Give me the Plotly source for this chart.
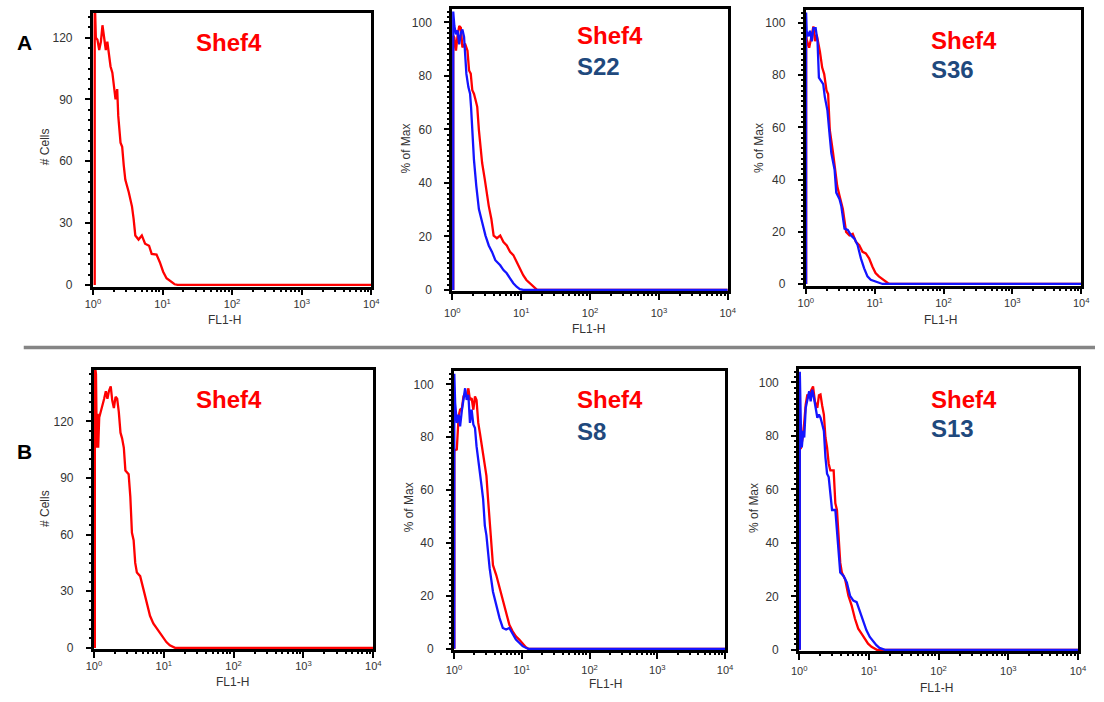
import plotly.graph_objects as go

# ---------------- data ----------------
# Panel A, left: Shef4 (# Cells)
a1_shef4_x = [1.06, 1.06, 1.10, 1.16, 1.23, 1.30, 1.37, 1.45, 1.53, 1.61, 1.70, 1.79, 1.90, 2.00, 2.11, 2.23, 2.31, 2.49, 2.63, 2.77,
              2.92, 3.27, 3.64, 3.84, 4.06, 4.52, 5.04, 5.61, 6.40, 6.98, 8.20, 9.14, 10.2, 11.4, 13.4, 14.9, 16.5, 10000]
a1_shef4_y = [0, 140, 120, 119, 114, 118, 126, 120, 114, 118, 112, 106, 103, 95, 90, 95, 82, 69, 67, 58,
              51, 45, 38, 32, 24, 22, 24, 20, 19, 15, 14.7, 11, 6.4, 3.2, 1.6, 0.3, 0, 0]

# Panel A, middle: Shef4 vs S22 (% of Max)
a2_shef4_x = [1.03, 1.03, 1.07, 1.13, 1.19, 1.26, 1.33, 1.40, 1.53, 1.66, 1.75, 1.85, 1.95, 2.06, 2.18, 2.30, 2.43, 2.57, 2.71, 2.96,
              3.20, 3.38, 3.69, 3.98, 4.44, 4.96, 5.53, 6.17, 6.89, 7.69, 8.58, 9.57, 10.7, 11.9, 13.3, 14.8, 16.0, 17.0, 10000]
a2_shef4_y = [0, 95, 94.3, 89.4, 95, 98.6, 98, 90.6, 92, 89.4, 82, 80.8, 74.6, 73.3, 70.9, 68.4, 59.8, 52.4, 47.4, 41.3,
              35.1, 31.4, 26.5, 20.3, 19.3, 20.3, 17.9, 16.6, 14.2, 13, 10.5, 8.0, 5.5, 3.7, 2.5, 1.4, 0.4, 0, 0]
a2_s22_x = [1.03, 1.03, 1.07, 1.13, 1.19, 1.26, 1.33, 1.40, 1.48, 1.53, 1.60, 1.71, 1.81, 1.87, 1.95, 2.06, 2.23, 2.43, 2.71, 3.03,
            3.38, 3.77, 4.21, 4.96, 5.53, 6.17, 6.89, 7.69, 8.58, 9.57, 10.7, 10000]
a2_s22_y = [0, 104, 98.6, 95.5, 97, 91.8, 96.1, 97.3, 94.5, 89.4, 80.7, 75.8, 73.3, 68.4, 58.5, 48.7, 38.8, 30.2, 25.3, 20.3,
            16.6, 14.2, 11.1, 9.2, 7.4, 6.2, 4.3, 2.5, 1.2, 0.3, 0, 0]

# Panel A, right: Shef4 vs S36 (% of Max)
a3_shef4_x = [1.01, 1.01, 1.03, 1.12, 1.22, 1.29, 1.36, 1.44, 1.60, 1.73, 1.85, 2.00, 2.11, 2.23, 2.49, 2.62, 2.86, 3.09, 3.45, 3.85,
              4.30, 4.80, 5.35, 5.97, 6.67, 7.44, 8.30, 9.26, 10.3, 11.5, 13.6, 15.5, 16.5, 10000]
a3_shef4_y = [0, 96, 93.6, 90.5, 95.5, 98.7, 93, 95.5, 89.2, 82.9, 80.4, 74.1, 72.8, 59, 50.1, 45.1, 37.5, 33.8, 28.7, 19.9,
              18.6, 19.2, 16.1, 14.9, 12.3, 11.7, 9.8, 6.7, 4.2, 2.9, 1.3, 0.4, 0, 0]
a3_s36_x = [1.01, 1.01, 1.03, 1.09, 1.15, 1.22, 1.29, 1.39, 1.48, 1.55, 1.66, 1.79, 1.89, 2.06, 2.23, 2.35, 2.62, 2.77, 3.09, 3.27,
            3.65, 4.07, 4.54, 5.07, 5.65, 6.31, 7.04, 7.86, 8.77, 10.3, 12.2, 13.0, 10000]
a3_s36_y = [0, 104, 96.8, 94.9, 97, 93, 98, 98, 93, 79.1, 77.9, 76.6, 71.6, 66.5, 56.4, 50.1, 43.8, 35, 32.5, 30,
            21.2, 20.7, 18.6, 17.4, 14.9, 9.8, 6.0, 2.9, 1.6, 1.0, 0.3, 0, 0]

# Panel B, left: Shef4 (# Cells)
b1_shef4_x = [1.03, 1.03, 1.07, 1.10, 1.13, 1.15, 1.19, 1.25, 1.32, 1.40, 1.48, 1.56, 1.64, 1.74, 1.83, 1.93, 2.04, 2.15, 2.27, 2.40,
              2.53, 2.68, 2.82, 3.14, 3.32, 3.50, 3.70, 3.90, 4.12, 4.59, 5.12, 5.70, 6.35, 7.08, 7.88, 8.79, 9.79, 10.9, 12.2, 13.5,
              14.5, 10000]
b1_shef4_y = [0, 150, 145, 106, 124, 106, 122, 125, 127, 132, 136, 132, 136, 138.5, 131, 127, 133, 132, 125, 114,
              111, 106, 94, 92, 80, 61, 57, 45, 40, 38, 31, 24, 17, 13, 10.7, 8.0, 5.4, 3.1, 1.4, 0.5,
              0, 0]

# Panel B, middle: Shef4 vs S8 (% of Max)
b2_shef4_x = [1.01, 1.01, 1.10, 1.13, 1.17, 1.23, 1.31, 1.38, 1.46, 1.54, 1.63, 1.72, 1.82, 1.93, 2.04, 2.15, 2.28, 2.41, 2.55, 2.69,
              2.85, 3.01, 3.18, 3.36, 3.56, 3.76, 4.20, 4.70, 5.25, 5.87, 6.56, 7.33, 8.20, 9.17, 10.3, 11.5, 12.5, 10000]
b2_shef4_y = [0, 75, 75.4, 81.6, 88, 90.4, 91, 95.4, 96.5, 95.4, 98.5, 94.1, 94.8, 90.4, 95.4, 94.1, 85.4, 81.6, 77.9, 74.1,
              69.1, 65.4, 56.6, 47.9, 40.4, 31.6, 27.9, 22.9, 17.9, 12.9, 9.1, 6.6, 4.7, 3.5, 1.8, 0.6, 0, 0]
b2_s8_x = [1.01, 1.01, 1.04, 1.10, 1.17, 1.23, 1.31, 1.38, 1.46, 1.54, 1.63, 1.72, 1.82, 1.93, 2.04, 2.15, 2.28, 2.41, 2.55, 2.69,
           2.85, 3.01, 3.18, 3.36, 3.76, 4.20, 4.70, 5.25, 5.87, 6.56, 7.33, 8.20, 9.17, 10.3, 11.5, 12.5, 10000]
b2_s8_y = [0, 104, 92.9, 85.4, 88.5, 84.1, 90.4, 94.1, 98.5, 94.1, 96, 85.4, 90.4, 84.8, 83.5, 76.6, 70.4, 66.6, 61.6, 56.6,
           46.6, 42.9, 36.6, 30.4, 21.6, 16.6, 11.6, 7.9, 7.3, 7.9, 5.4, 3.5, 2.3, 1.0, 0.4, 0, 0]

# Panel B, right: Shef4 vs S13 (% of Max)
b3_shef4_x = [1.02, 1.02, 1.06, 1.12, 1.18, 1.24, 1.31, 1.39, 1.46, 1.58, 1.68, 1.82, 1.92, 2.02, 2.14, 2.26, 2.38, 2.51, 2.65, 2.80,
              3.12, 3.30, 3.48, 3.67, 3.88, 4.09, 4.56, 5.08, 5.66, 6.31, 7.03, 7.84, 8.74, 9.73, 10.9, 12.1, 13.0, 10000]
b3_shef4_y = [0, 76, 75.7, 79.4, 85, 91.8, 95.5, 94.2, 96.7, 98.5, 92.9, 90.5, 95.2, 95.5, 91.2, 88, 79.4, 75.7, 69.6, 67.1,
              67.1, 54.8, 52.3, 42.4, 32.6, 28.9, 26.4, 20.2, 16.5, 11.6, 7.9, 6.0, 4.2, 2.3, 1.1, 0.5, 0, 0]
b3_s13_x = [1.02, 1.02, 1.06, 1.09, 1.14, 1.18, 1.24, 1.31, 1.39, 1.46, 1.54, 1.63, 1.72, 1.82, 1.92, 2.02, 2.14, 2.26, 2.38, 2.51,
            2.65, 2.80, 2.96, 3.30, 3.48, 3.67, 3.88, 4.32, 4.82, 5.37, 5.98, 6.67, 7.43, 8.28, 9.22, 10.3, 11.5, 12.8, 14.2, 15.8,
            17.0, 10000]
b3_s13_y = [0, 104, 81.9, 75.7, 81.9, 79.4, 90.5, 94.2, 96.7, 92.9, 97.3, 94.2, 90.5, 86.8, 88, 86.8, 84.4, 81.9, 72, 65.9,
            64.6, 57.2, 52.3, 52.3, 44.9, 36.3, 28.9, 27.6, 25.2, 20.2, 18.4, 17.8, 14.1, 10.4, 7.3, 4.8, 3.0, 1.7, 0.7, 0.2,
            0, 0]

x_tick_vals = [1, 10, 100, 1000, 10000]
x_tick_text = ["10<sup>0</sup>", "10<sup>1</sup>", "10<sup>2</sup>", "10<sup>3</sup>", "10<sup>4</sup>"]
x_title = "FL1-H"
cells_title = "# Cells"
pct_title = "% of Max"
panel_letters = ["A", "B"]

# ---------------- layout helpers ----------------
W, H = 1104, 702
RED = "#ff0000"
BLUE = "#1414ff"
TXT_BLUE = "#1f497d"
FONT = "Liberation Sans, Arial, sans-serif"
TICK_COL = "#333333"


def xd(a, b):
    return [a / W, b / W]


def yd(top, bottom):
    return [1 - bottom / H, 1 - top / H]


def px(x):
    return x / W


def py(y):
    return 1 - y / H


panels = [
    dict(xdom=(86, 369), ydom=(13, 289), ytop=132, ylow=-0.8, dt=30, mdt=5, ytitle=cells_title,
         series=[(a1_shef4_x, a1_shef4_y, RED)], ytp=(37, 148), xtp=(220, 323), tls=0,
         labels=[("Shef4", RED, 189, 43)]),
    dict(xdom=(451, 731), ydom=(9, 294), ytop=105, ylow=-0.6, dt=20, mdt=2, ytitle=pct_title,
         series=[(a2_shef4_x, a2_shef4_y, RED), (a2_s22_x, a2_s22_y, BLUE)], ytp=(404, 150), xtp=(590, 332), tls=4,
         labels=[("Shef4", RED, 576, 36), ("S22", TXT_BLUE, 576, 67)]),
    dict(xdom=(810, 1090), ydom=(10, 288), ytop=105, ylow=-0.6, dt=20, mdt=2, ytitle=pct_title,
         series=[(a3_shef4_x, a3_shef4_y, RED), (a3_s36_x, a3_s36_y, BLUE)], ytp=(762, 149), xtp=(947, 323), tls=0,
         labels=[("Shef4", RED, 935, 41), ("S36", TXT_BLUE, 935, 70)]),
    dict(xdom=(87, 371), ydom=(373, 655), ytop=147.3, ylow=-0.8, dt=30, mdt=5, ytitle=cells_title,
         series=[(b1_shef4_x, b1_shef4_y, RED)], ytp=(37, 513), xtp=(228, 688), tls=-1,
         labels=[("Shef4", RED, 189, 403)]),
    dict(xdom=(452.7, 728.3), ydom=(374.3, 656), ytop=105, ylow=-0.6, dt=20, mdt=2, ytitle=pct_title,
         series=[(b2_shef4_x, b2_shef4_y, RED), (b2_s8_x, b2_s8_y, BLUE)], ytp=(407, 512), xtp=(607, 690), tls=2,
         labels=[("Shef4", RED, 576, 403), ("S8", TXT_BLUE, 576, 435)]),
    dict(xdom=(803.3, 1086.7), ydom=(372.3, 657), ytop=105, ylow=-0.6, dt=20, mdt=2, ytitle=pct_title,
         series=[(b3_shef4_x, b3_shef4_y, RED), (b3_s13_x, b3_s13_y, BLUE)], ytp=(757, 512), xtp=(943, 694), tls=2,
         labels=[("Shef4", RED, 935, 403), ("S13", TXT_BLUE, 935, 432)]),
]

minor_x = [m * 10 ** d for d in range(4) for m in range(2, 10)]

fig = go.Figure()
layout = dict(
    width=W, height=H, margin=dict(l=0, r=0, t=0, b=0),
    paper_bgcolor="white", plot_bgcolor="white", showlegend=False,
    font=dict(family=FONT, color=TICK_COL),
)
annotations = []
n = len(panels)

for i, p in enumerate(panels, start=1):
    xa = "x" if i == 1 else f"x{i}"
    ya = "y" if i == 1 else f"y{i}"
    xkey = "xaxis" if i == 1 else f"xaxis{i}"
    ykey = "yaxis" if i == 1 else f"yaxis{i}"
    # overlay axes that only carry the minor ticks
    mi = n + i
    xm, ym = f"x{mi}", f"y{mi}"
    for sx, sy, col in p["series"]:
        fig.add_trace(go.Scatter(x=sx, y=sy, mode="lines", xaxis=xa, yaxis=ya,
                                 line=dict(color=col, width=2.3), hoverinfo="skip"))
    fig.add_trace(go.Scatter(x=[None], y=[None], mode="lines", xaxis=xm, yaxis=ym, hoverinfo="skip"))

    xr = [-0.004, 4.0]
    yr = [p["ylow"], p["ytop"]]
    layout[xkey] = dict(
        type="log", domain=xd(*p["xdom"]), range=xr, anchor=ya,
        showline=True, linecolor="black", linewidth=2.5, mirror=True,
        showgrid=False, zeroline=False,
        ticks="outside", ticklen=6, tickwidth=2, tickcolor="black",
        tickmode="array", tickvals=x_tick_vals, ticktext=x_tick_text,
        tickfont=dict(size=11, color=TICK_COL, family=FONT),
        ticklabelstandoff=p["tls"],
    )
    layout[ykey] = dict(
        domain=yd(*p["ydom"]), range=yr, anchor=xa,
        showline=True, linecolor="black", linewidth=2.5, mirror=True,
        showgrid=False, zeroline=False,
        ticks="outside", ticklen=5, tickwidth=2, tickcolor="black",
        tick0=0, dtick=p["dt"],
        tickfont=dict(size=12, color=TICK_COL, family=FONT),
        ticklabelstandoff=10,
    )
    minor_y = list(range(0, int(p["ytop"]) + 1, p["mdt"]))
    layout[f"xaxis{mi}"] = dict(
        type="log", domain=xd(*p["xdom"]), range=xr, anchor=ym, overlaying=xa, side="bottom",
        showline=False, showgrid=False, zeroline=False, showticklabels=False,
        ticks="outside", ticklen=4, tickwidth=1.5, tickcolor="black",
        tickmode="array", tickvals=minor_x,
    )
    layout[f"yaxis{mi}"] = dict(
        domain=yd(*p["ydom"]), range=yr, anchor=xm, overlaying=ya, side="left",
        showline=False, showgrid=False, zeroline=False, showticklabels=False,
        ticks="outside", ticklen=4, tickwidth=1.5, tickcolor="black",
        tickmode="array", tickvals=minor_y,
    )
    # axis titles
    annotations.append(dict(text=p["ytitle"], x=px(p["ytp"][0]), y=py(p["ytp"][1]), xref="paper", yref="paper",
                            showarrow=False, textangle=-90, xanchor="center", yanchor="middle",
                            font=dict(size=12, color=TICK_COL, family=FONT)))
    annotations.append(dict(text=x_title, x=px(p["xtp"][0]), y=py(p["xtp"][1]), xref="paper", yref="paper",
                            showarrow=False, xanchor="center", yanchor="middle",
                            font=dict(size=12, color=TICK_COL, family=FONT)))
    for txt, col, lx, ly in p["labels"]:
        annotations.append(dict(text=f"<b>{txt}</b>", x=px(lx), y=py(ly), xref="paper", yref="paper",
                                showarrow=False, xanchor="left", yanchor="middle",
                                font=dict(size=24, color=col, family=FONT)))

# panel letters
annotations.append(dict(text=f"<b>{panel_letters[0]}</b>", x=px(17), y=py(43), xref="paper", yref="paper",
                        showarrow=False, xanchor="center", yanchor="middle",
                        font=dict(size=21, color="black", family=FONT)))
annotations.append(dict(text=f"<b>{panel_letters[1]}</b>", x=px(17), y=py(455), xref="paper", yref="paper",
                        showarrow=False, xanchor="center", yanchor="middle",
                        font=dict(size=21, color="black", family=FONT)))

layout["annotations"] = annotations
layout["shapes"] = [dict(type="line", xref="paper", yref="paper", x0=px(16), x1=1.0, y0=py(350.5), y1=py(350.5),
                         line=dict(color="#858585", width=3.5))]

fig.update_layout(**layout)
fig.write_html("out.html")
